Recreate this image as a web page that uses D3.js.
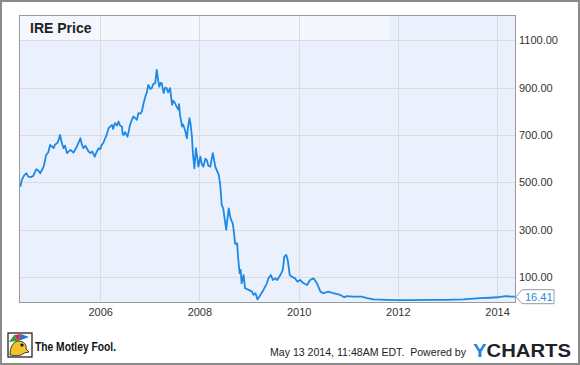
<!DOCTYPE html>
<html>
<head>
<meta charset="utf-8">
<script src="https://cdnjs.cloudflare.com/ajax/libs/d3/7.8.5/d3.min.js"></script>
<style>
	body { margin: 0; background: #fff; }
	svg { display: block; font-family: "Liberation Sans", Arial, sans-serif; }
</style>
</head>
<body>
<svg id="chart" width="580" height="365"></svg>
<script>
var title = "IRE Price";
var startDate = new Date(2004, 4, 13);
var endDate = new Date(2014, 4, 13);
var yearTicks = [2006, 2008, 2010, 2012, 2014];
var priceTicks = [100, 300, 500, 700, 900, 1100];
var lastPrice = 16.41;
var footerText = "May 13 2014, 11:48AM EDT.\u00a0 Powered by";

// decimal years
var years = [
	2004.39, 2004.42, 2004.47, 2004.51, 2004.55, 2004.61, 2004.65, 2004.71, 2004.75, 2004.79,
	2004.86, 2004.91, 2004.95, 2004.99, 2005.06, 2005.09, 2005.13, 2005.15, 2005.19, 2005.22,
	2005.26, 2005.29, 2005.33, 2005.40, 2005.46, 2005.53, 2005.60, 2005.63, 2005.66, 2005.70,
	2005.73, 2005.76, 2005.80, 2005.84, 2005.89, 2005.92, 2005.97, 2006.00, 2006.03, 2006.06,
	2006.10, 2006.13, 2006.17, 2006.20, 2006.24, 2006.26, 2006.30, 2006.34, 2006.37, 2006.40,
	2006.44, 2006.45, 2006.47, 2006.50, 2006.55, 2006.58, 2006.60, 2006.64, 2006.67, 2006.71,
	2006.74, 2006.77, 2006.81, 2006.84, 2006.87, 2006.91, 2006.94, 2006.97, 2007.01, 2007.04,
	2007.07, 2007.11, 2007.14, 2007.17, 2007.19, 2007.22, 2007.24, 2007.28, 2007.31, 2007.34,
	2007.37, 2007.41, 2007.43, 2007.45, 2007.47, 2007.51, 2007.54, 2007.58, 2007.59, 2007.61,
	2007.65, 2007.67, 2007.71, 2007.75, 2007.77, 2007.80, 2007.82, 2007.85, 2007.87, 2007.90,
	2007.93, 2007.96, 2007.98, 2008.02, 2008.05, 2008.08, 2008.12, 2008.15, 2008.18, 2008.22,
	2008.27, 2008.30, 2008.32, 2008.39, 2008.42, 2008.45, 2008.48, 2008.54, 2008.59, 2008.62,
	2008.64, 2008.67, 2008.69, 2008.72, 2008.76, 2008.78, 2008.81, 2008.83, 2008.85, 2008.89,
	2008.92, 2008.99, 2009.06, 2009.09, 2009.13, 2009.17, 2009.23, 2009.29, 2009.36, 2009.39,
	2009.44, 2009.48, 2009.53, 2009.57, 2009.63, 2009.68, 2009.71, 2009.75, 2009.78, 2009.82,
	2009.86, 2009.93, 2009.97, 2010.03, 2010.10, 2010.17, 2010.23, 2010.30, 2010.37, 2010.44,
	2010.50, 2010.60, 2010.70, 2010.84, 2010.92, 2010.97, 2011.11, 2011.27, 2011.38, 2011.51,
	2011.78, 2011.98, 2012.25, 2012.65, 2012.96, 2013.32, 2013.66, 2013.86, 2014.00, 2014.17,
	2014.27, 2014.36
];

var prices = [
	481, 510, 530, 538, 524, 522, 527, 555, 550, 538,
	566, 616, 625, 658, 644, 660, 665, 672, 700, 670,
	644, 655, 623, 637, 625, 651, 686, 660, 644, 655,
	644, 632, 623, 630, 608, 625, 644, 640, 658, 665,
	686, 700, 729, 735, 742, 725, 750, 740, 757, 740,
	735, 705, 700, 712, 693, 720, 742, 765, 778, 770,
	764, 792, 790, 799, 830, 862, 880, 912, 895, 898,
	915, 919, 975, 930, 904, 920, 919, 877, 900, 898,
	880, 898, 860, 827, 845, 834, 820, 806, 830, 785,
	735, 745, 721, 686, 730, 771, 750, 693, 620, 559,
	644, 600, 566, 608, 575, 566, 600, 594, 570, 566,
	623, 590, 566, 531, 489, 404, 390, 299, 390, 355,
	340, 327, 299, 240, 242, 180, 115, 130, 73, 108,
	52, 45, 38, 24, 31, 5, 24, 45, 73, 94,
	108, 87, 94, 87, 108, 129, 186, 193, 172, 108,
	101, 94, 80, 87, 73, 66, 87, 94, 73, 38,
	31, 38, 31, 24, 14, 19, 17, 17, 10, 5,
	3, 2, 2, 3, 3, 5, 10, 12, 14, 19,
	17, 16.41
];

var PriceChart = {
	plot: { left: 19, top: 15, right: 515, bottom: 302 },
	titleBand: { right: 389, bottom: 40 },
	colors: {
		line: "#1e88e5",
		plotBg: "#eaf1fc",
		bandBg: "#f4f7fd",
		grid: "#d9dbdf",
		border: "#999",
		text: "#222"
	},

	svg: null,
	x: null,
	y: null,

	init: function() {
		var self = this;

		self.svg = d3.select("#chart");

		self.x = d3.scaleTime()
			.domain([startDate, endDate])
			.range([self.plot.left, self.plot.right]);

		self.y = d3.scaleLinear()
			.domain([-6, 1207])
			.range([self.plot.bottom, self.plot.top]);

		self.drawBackground();
		self.drawGrid();
		self.drawLine();
		self.drawAxes();
		self.drawLastPrice();
		self.drawFooter();
	},
	yearToDate: function(yr) {
		var whole = Math.floor(yr);
		var a = new Date(whole, 0, 1), b = new Date(whole + 1, 0, 1);
		return new Date(a.getTime() + (yr - whole) * (b - a));
	},
	drawBackground: function() {
		var self = this;
		var p = self.plot;

		// outer frame
		self.svg.append("rect")
			.attr("x", 1)
			.attr("y", 1)
			.attr("width", 578)
			.attr("height", 363)
			.style("fill", "#fff")
			.style("stroke", "#8a8a8a")
			.style("stroke-width", 2);

		self.svg.append("rect")
			.attr("x", p.left)
			.attr("y", p.top)
			.attr("width", p.right - p.left)
			.attr("height", p.bottom - p.top)
			.style("fill", self.colors.plotBg);

		// lighter title band
		self.svg.append("rect")
			.attr("x", p.left)
			.attr("y", p.top)
			.attr("width", self.titleBand.right - p.left)
			.attr("height", self.titleBand.bottom - p.top)
			.style("fill", self.colors.bandBg);
	},
	drawGrid: function() {
		var self = this;
		var p = self.plot;

		self.svg.append("g")
			.selectAll("line")
			.data(priceTicks)
			.enter()
			.append("line")
			.attr("x1", p.left)
			.attr("x2", p.right)
			.attr("y1", function(d) { return Math.round(self.y(d)) + 0.5; })
			.attr("y2", function(d) { return Math.round(self.y(d)) + 0.5; })
			.style("stroke", self.colors.grid)
			.style("stroke-width", 1);

		self.svg.append("g")
			.selectAll("line")
			.data(yearTicks)
			.enter()
			.append("line")
			.attr("x1", function(d) { return Math.round(self.x(new Date(d, 0, 1))) + 0.5; })
			.attr("x2", function(d) { return Math.round(self.x(new Date(d, 0, 1))) + 0.5; })
			.attr("y1", p.top)
			.attr("y2", p.bottom)
			.style("stroke", self.colors.grid)
			.style("stroke-width", 1);

		// title
		self.svg.append("text")
			.attr("x", 30)
			.attr("y", 33)
			.style("font-size", "14px")
			.style("font-weight", "bold")
			.style("fill", self.colors.text)
			.text(title);
	},
	drawLine: function() {
		var self = this;
		var points = years.map(function(yr, i) {
			return { date: self.yearToDate(yr), price: prices[i] };
		});

		var line = d3.line()
			.x(function(d) { return self.x(d.date); })
			.y(function(d) { return self.y(d.price); });

		self.svg.append("path")
			.datum(points)
			.attr("d", line)
			.style("fill", "none")
			.style("stroke", self.colors.line)
			.style("stroke-width", 1.8)
			.style("stroke-linejoin", "round");

		// plot border on top
		var p = self.plot;
		self.svg.append("rect")
			.attr("x", p.left + 0.5)
			.attr("y", p.top + 0.5)
			.attr("width", p.right - p.left)
			.attr("height", p.bottom - p.top)
			.style("fill", "none")
			.style("stroke", self.colors.border)
			.style("stroke-width", 1);
	},
	drawAxes: function() {
		var self = this;
		var p = self.plot;

		var yAxis = self.svg.append("g")
			.attr("transform", "translate(" + p.right + ",0)")
			.call(d3.axisRight(self.y)
				.tickValues(priceTicks)
				.tickFormat(d3.format(".2f"))
				.tickSize(0)
				.tickPadding(4));

		var xAxis = self.svg.append("g")
			.attr("transform", "translate(0," + p.bottom + ")")
			.call(d3.axisBottom(self.x)
				.tickValues(yearTicks.map(function(d) { return new Date(d, 0, 1); }))
				.tickFormat(d3.timeFormat("%Y"))
				.tickSize(0)
				.tickPadding(6));

		[yAxis, xAxis].forEach(function(axis) {
			axis.select(".domain").remove();
			axis.attr("font-family", null).attr("font-size", null);
			axis.selectAll("text")
				.style("font-size", "11px")
				.style("fill", "#333");
		});
	},
	drawLastPrice: function() {
		var self = this;
		var yy = self.y(lastPrice);
		var x0 = self.plot.right + 1;

		self.svg.append("path")
			.attr("d", "M" + x0 + "," + yy + "L" + (x0 + 6) + "," + (yy - 7) +
				"H" + (x0 + 38) + "V" + (yy + 7) + "H" + (x0 + 6) + "Z")
			.style("fill", "#fff")
			.style("stroke", "#999")
			.style("stroke-width", 1);

		self.svg.append("text")
			.attr("x", x0 + 9)
			.attr("y", yy + 4)
			.style("font-size", "11px")
			.style("fill", self.colors.line)
			.text(d3.format(".2f")(lastPrice));
	},
	drawFooter: function() {
		var self = this;

		// Motley Fool jester icon
		var icon = self.svg.append("g")
			.attr("transform", "translate(8,333)");
		icon.append("rect")
			.attr("width", 24)
			.attr("height", 24)
			.style("fill", "#fff")
			.style("stroke", "#111")
			.style("stroke-width", 1.2);
		icon.append("path")
			.attr("d", "M2,22 C2,14 5,9 10,8 C16,8 19,12 18,16 L21,19 L16,20 C14,23 8,23 2,22 Z")
			.style("fill", "#f2c12e")
			.style("stroke", "#111")
			.style("stroke-width", 0.8);
		icon.append("path")
			.attr("d", "M1,9 L6,2 L10,8 Z")
			.style("fill", "#2e9e3e");
		icon.append("path")
			.attr("d", "M6,2 L13,1 L10,8 Z")
			.style("fill", "#d62d2d");
		icon.append("path")
			.attr("d", "M13,1 L21,4 L10,8 Z")
			.style("fill", "#2d6fd6");
		icon.append("circle")
			.attr("cx", 14)
			.attr("cy", 12)
			.attr("r", 1.6)
			.style("fill", "#111");

		self.svg.append("text")
			.attr("x", 35)
			.attr("y", 351)
			.attr("textLength", 81)
			.attr("lengthAdjust", "spacingAndGlyphs")
			.style("font-size", "13px")
			.style("font-weight", "bold")
			.style("fill", "#111")
			.text("The Motley Fool.");

		self.svg.append("text")
			.attr("x", 270)
			.attr("y", 356)
			.attr("textLength", 196)
			.attr("lengthAdjust", "spacingAndGlyphs")
			.style("font-size", "11px")
			.style("fill", "#222")
			.text(footerText);

		var logo = self.svg.append("text")
			.attr("x", 473)
			.attr("y", 357)
			.attr("textLength", 98)
			.attr("lengthAdjust", "spacingAndGlyphs")
			.style("font-size", "18px")
			.style("font-weight", "bold")
			.style("fill", "#1f2228");
		logo.append("tspan")
			.style("fill", "#1e88e5")
			.text("Y");
		logo.append("tspan")
			.text("CHARTS");
	}
};

PriceChart.init();
</script>
</body>
</html>
